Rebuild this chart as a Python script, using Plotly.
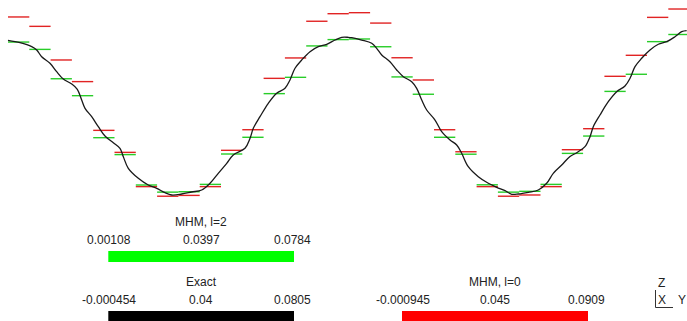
import plotly.graph_objects as go

# ---------------- data ----------------
n_elements = 32
domain = [0.0, 1.0]

mhm_l0 = [0.0870, 0.0824, 0.0659, 0.0553, 0.0314, 0.0206, 0.0038, -0.0009,
          -0.0005, 0.0038, 0.0216, 0.0317, 0.0569, 0.0669, 0.0849, 0.0886,
          0.0891, 0.0840, 0.0670, 0.0561, 0.0317, 0.0209, 0.0038, -0.0009,
          -0.0003, 0.0038, 0.0219, 0.0322, 0.0579, 0.0682, 0.0868, 0.0909]

mhm_l2 = [0.0747, 0.0711, 0.0567, 0.0484, 0.0278, 0.0195, 0.0046, 0.0011,
          0.0013, 0.0049, 0.0198, 0.0280, 0.0494, 0.0574, 0.0728, 0.0759,
          0.0762, 0.0724, 0.0576, 0.0491, 0.0280, 0.0197, 0.0047, 0.0011,
          0.0015, 0.0049, 0.0201, 0.0286, 0.0505, 0.0589, 0.0749, 0.0784]

exact_x = [0.0000, 0.0176, 0.0348, 0.0421, 0.0494, 0.0616, 0.0714, 0.0811,
           0.0935, 0.1017, 0.1081, 0.1130, 0.1228, 0.1325, 0.1423, 0.1545,
           0.1643, 0.1692, 0.1765, 0.1912, 0.2058, 0.2182, 0.2303, 0.2402,
           0.2548, 0.2695, 0.2842, 0.2964, 0.3085, 0.3209, 0.3305, 0.3477,
           0.3551, 0.3599, 0.3697, 0.3819, 0.3942, 0.4064, 0.4137, 0.4211,
           0.4309, 0.4431, 0.4553, 0.4676, 0.4798, 0.4896, 0.4993, 0.5043,
           0.5189, 0.5336, 0.5409, 0.5483, 0.5604, 0.5703, 0.5800, 0.5923,
           0.5996, 0.6070, 0.6143, 0.6265, 0.6363, 0.6485, 0.6583, 0.6656,
           0.6753, 0.6900, 0.7047, 0.7170, 0.7292, 0.7390, 0.7487, 0.7634,
           0.7780, 0.7903, 0.8000, 0.8124, 0.8245, 0.8344, 0.8465, 0.8539,
           0.8587, 0.8685, 0.8807, 0.8930, 0.9052, 0.9126, 0.9199, 0.9297,
           0.9419, 0.9541, 0.9664, 0.9786, 0.9884, 0.9957]

exact_y = [0.07556, 0.07438, 0.07242, 0.07080, 0.06751, 0.06428, 0.06016, 0.05658,
           0.05413, 0.05153, 0.04628, 0.04221, 0.03809, 0.03319, 0.02863, 0.02534,
           0.02259, 0.01848, 0.01279, 0.00788, 0.00460, 0.00298, 0.00082, -0.00031,
           0.00018, 0.00116, 0.00214, 0.00543, 0.01033, 0.01524, 0.01931, 0.02259,
           0.02750, 0.03240, 0.03809, 0.04466, 0.04957, 0.05202, 0.05609, 0.06183,
           0.06590, 0.06997, 0.07242, 0.07360, 0.07570, 0.07703, 0.07703, 0.07683,
           0.07570, 0.07409, 0.07163, 0.06835, 0.06506, 0.06099, 0.05771, 0.05525,
           0.05202, 0.04628, 0.04138, 0.03647, 0.03073, 0.02666, 0.02421, 0.02014,
           0.01357, 0.00867, 0.00543, 0.00347, 0.00180, 0.00004, 0.00018, 0.00102,
           0.00214, 0.00543, 0.01033, 0.01440, 0.01857, 0.02044, 0.02338, 0.02828,
           0.03319, 0.03892, 0.04545, 0.05035, 0.05315, 0.05692, 0.06261, 0.06673,
           0.07080, 0.07360, 0.07487, 0.07732, 0.07977, 0.08027]

# legend (colour-bar) texts
bar_titles = ["MHM, l=2", "Exact", "MHM, l=0"]
bar_ticks = [["0.00108", "0.0397", "0.0784"],
             ["-0.000454", "0.04", "0.0805"],
             ["-0.000945", "0.045", "0.0909"]]
axis_labels = ["Z", "X", "Y"]

# ---------------- styling ----------------
W, H = 687, 321
RED = "rgb(225,35,35)"
GREEN = "rgb(40,205,40)"
FONT = "Liberation Sans, Arial, sans-serif"
PLOT_BOTTOM_PX = 205


def elem_segments(vals):
    xs, ys = [], []
    h = (domain[1] - domain[0]) / n_elements
    for k, v in enumerate(vals):
        xs += [domain[0] + k * h, domain[0] + (k + 1) * h, None]
        ys += [v, v, None]
    return xs, ys


fig = go.Figure()
rx, ry = elem_segments(mhm_l0)
gx, gy = elem_segments(mhm_l2)
fig.add_trace(go.Scatter(x=rx, y=ry, mode="lines", line=dict(color=RED, width=1.4),
                         name="MHM, l=0", hoverinfo="skip"))
fig.add_trace(go.Scatter(x=gx, y=gy, mode="lines", line=dict(color=GREEN, width=1.4),
                         name="MHM, l=2", hoverinfo="skip"))
fig.add_trace(go.Scatter(x=exact_x, y=exact_y, mode="lines", line=dict(color="rgb(25,25,25)", width=1.3),
                         line_shape="spline", name="Exact", hoverinfo="skip"))


def px(x):
    return x / W


def py(y):
    return 1 - y / H


shapes = []
annotations = []
# colour bars: (left px, right px, title y, tick y, bar top, bar bottom, colour)
bars = [(108.3, 294.0, 221.5, 240.0, 251.0, 262.0, "rgb(0,255,0)"),
        (108.3, 294.0, 282.0, 300.0, 311.0, 322.0, "rgb(0,0,0)"),
        (402.0, 588.0, 282.0, 299.5, 311.0, 322.0, "rgb(255,0,0)")]
for (l, r, ty, ky, b0, b1, col), title, ticks in zip(bars, bar_titles, bar_ticks):
    shapes.append(dict(type="rect", xref="paper", yref="paper",
                       x0=px(l), x1=px(r), y0=py(b1), y1=py(b0),
                       fillcolor=col, line=dict(width=0)))
    annotations.append(dict(text=title, x=px((l + r) / 2), y=py(ty), xref="paper", yref="paper",
                            xanchor="center", yanchor="middle", showarrow=False,
                            font=dict(family=FONT, size=12, color="#222")))
    for t, xx in zip(ticks, [l + 1, (l + r) / 2, r - 1.5]):
        annotations.append(dict(text=t, x=px(xx), y=py(ky), xref="paper", yref="paper",
                                xanchor="center", yanchor="middle", showarrow=False,
                                font=dict(family=FONT, size=12, color="#222")))

# orientation axes glyph
shapes.append(dict(type="line", xref="paper", yref="paper", x0=px(655.5), x1=px(655.5),
                   y0=py(290), y1=py(307.5), line=dict(color="#333", width=1)))
shapes.append(dict(type="line", xref="paper", yref="paper", x0=px(655.5), x1=px(673),
                   y0=py(307.5), y1=py(307.5), line=dict(color="#333", width=1)))
for lab, (xx, yy) in zip(axis_labels, [(661, 283), (662, 300), (681.5, 300)]):
    annotations.append(dict(text=lab, x=px(xx), y=py(yy), xref="paper", yref="paper",
                            xanchor="center", yanchor="middle", showarrow=False,
                            font=dict(family=FONT, size=12, color="#222")))

xscale = n_elements * 21.3  # pixels per unit of x
x_lo = domain[0] - 8 / xscale
x_hi = x_lo + W / xscale

fig.update_layout(
    width=W, height=H,
    margin=dict(l=0, r=0, t=0, b=0),
    paper_bgcolor="white", plot_bgcolor="white",
    showlegend=False,
    xaxis=dict(visible=False, range=[x_lo, x_hi], domain=[0, 1]),
    yaxis=dict(visible=False, range=[-0.00521, 0.09532],
               domain=[1 - PLOT_BOTTOM_PX / H, 1]),
    shapes=shapes, annotations=annotations,
)

fig.write_html("out.html", config={"displayModeBar": False},
               post_script="document.body.style.margin='0';document.body.style.overflow='hidden';")
